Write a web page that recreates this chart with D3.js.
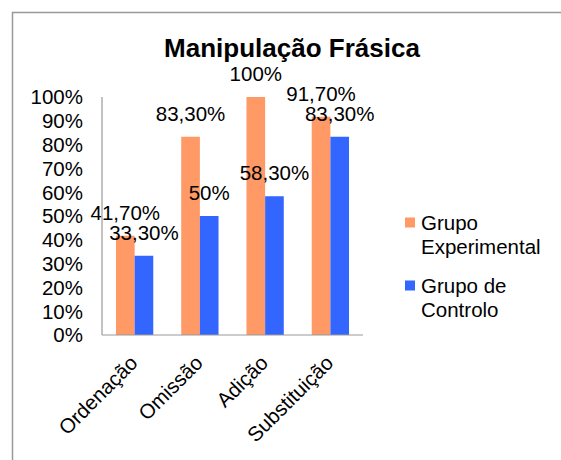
<!DOCTYPE html>
<html>
<head>
<meta charset="utf-8">
<script src="https://cdn.jsdelivr.net/npm/d3@7"></script>
<style>
  body { margin: 0; background: #fff; }
  text { font-family: "Liberation Sans", Arial, sans-serif; fill: #000; }
</style>
</head>
<body>
<div id="chart"></div>
<script>
const WIDTH = 561;
const HEIGHT = 460;

// data
const categories = ['Ordenação', 'Omissão', 'Adição', 'Substituição'];
const seriesNames = ['Grupo Experimental', 'Grupo de Controlo'];
const experimental = [41.7, 83.3, 100, 91.7];
const controlo = [33.3, 50, 58.3, 83.3];
const yTicks = [0, 10, 20, 30, 40, 50, 60, 70, 80, 90, 100];
const colours = ['#FF9966', '#3366FF'];

const PLOT = { LEFT: 102, RIGHT: 363, TOP: 97, BOTTOM: 335 };

const svg = d3.select('#chart')
  .append('svg')
    .attr('width', WIDTH)
    .attr('height', HEIGHT);

// outer chart frame (runs off the right/bottom edge)
svg.append('rect')
  .attr('x', 12.5).attr('y', 12.5)
  .attr('width', 600).attr('height', 500)
  .attr('fill', 'none')
  .attr('stroke', '#999')
  .attr('stroke-width', 1.5);

svg.append('text')
  .attr('x', 292).attr('y', 57)
  .attr('text-anchor', 'middle')
  .style('font-size', '26px')
  .style('font-weight', 'bold')
  .text('Manipulação Frásica');

const x0 = d3.scaleBand()
  .domain(categories)
  .range([PLOT.LEFT, PLOT.RIGHT]);

const x1 = d3.scaleBand()
  .domain([0, 1])
  .range([0, x0.bandwidth()])
  .paddingInner(0)
  .paddingOuter(0.75);

const y = d3.scaleLinear()
  .domain([0, 100])
  .range([PLOT.BOTTOM, PLOT.TOP]);

const fmt = v => Number.isInteger(v) ? v + '%' : v.toFixed(2).replace('.', ',') + '%';

// y tick labels
svg.append('g')
  .selectAll('text')
  .data(yTicks)
  .enter().append('text')
    .attr('x', 83)
    .attr('y', d => y(d))
    .attr('dy', '0.36em')
    .attr('text-anchor', 'end')
    .style('font-size', '20.5px')
    .text(d => d + '%');

// bars
const rows = categories.map((c, i) => ({ cat: c, values: [experimental[i], controlo[i]] }));

const groups = svg.append('g')
  .selectAll('g')
  .data(rows)
  .enter().append('g')
    .attr('transform', d => `translate(${x0(d.cat)},0)`);

groups.selectAll('rect')
  .data(d => d.values.map((v, s) => ({ v, s })))
  .enter().append('rect')
    .attr('x', d => x1(d.s))
    .attr('y', d => y(d.v))
    .attr('width', x1.bandwidth())
    .attr('height', d => y(0) - y(d.v))
    .attr('fill', d => colours[d.s]);

// axis lines
svg.append('line')
  .attr('x1', PLOT.LEFT).attr('x2', PLOT.LEFT)
  .attr('y1', PLOT.TOP).attr('y2', PLOT.BOTTOM)
  .attr('stroke', '#999').attr('stroke-width', 1.2);
svg.append('line')
  .attr('x1', PLOT.LEFT).attr('x2', PLOT.RIGHT)
  .attr('y1', PLOT.BOTTOM).attr('y2', PLOT.BOTTOM)
  .attr('stroke', '#999').attr('stroke-width', 1.2);

// data labels
groups.selectAll('text.lbl')
  .data(d => d.values.map((v, s) => ({ v, s })))
  .enter().append('text')
    .attr('class', 'lbl')
    .attr('x', d => x1(d.s) + x1.bandwidth() / 2)
    .attr('y', d => y(d.v) - 16)
    .attr('text-anchor', 'middle')
    .style('font-size', '20.5px')
    .text(d => fmt(d.v));

// category labels, rotated
svg.append('g')
  .selectAll('text')
  .data(categories)
  .enter().append('text')
    .attr('transform', d => `translate(${x0(d) + x0.bandwidth() / 2 - 6},354) rotate(-45)`)
    .attr('dy', '0.71em')
    .attr('text-anchor', 'end')
    .style('font-size', '20.5px')
    .text(d => d);

// legend
const legendLines = [['Grupo', 'Experimental'], ['Grupo de', 'Controlo']];
const legend = svg.append('g')
  .selectAll('g')
  .data(seriesNames)
  .enter().append('g')
    .attr('transform', (d, i) => `translate(405,${217.5 + i * 63})`);

legend.append('rect')
  .attr('width', 10).attr('height', 10)
  .attr('fill', (d, i) => colours[i]);

legend.append('text')
  .attr('x', 16)
  .attr('y', 12)
  .style('font-size', '20.5px')
  .selectAll('tspan')
  .data((d, i) => legendLines[i])
  .enter().append('tspan')
    .attr('x', 16)
    .attr('dy', (d, j) => j === 0 ? 0 : 24.5)
    .text(d => d);
</script>
</body>
</html>
